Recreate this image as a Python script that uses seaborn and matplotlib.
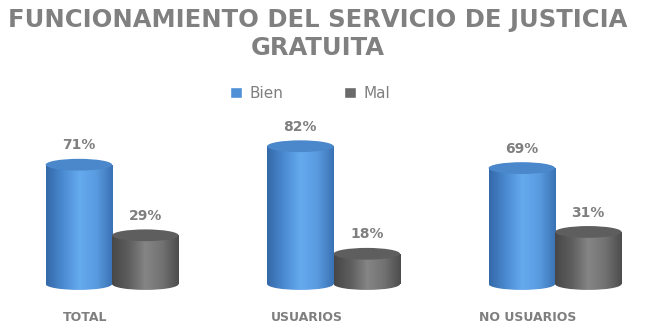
import numpy as np
import pandas as pd
import matplotlib
matplotlib.use("Agg")
import matplotlib.pyplot as plt
import matplotlib.transforms as mtransforms
from matplotlib.patches import Ellipse, Rectangle
from matplotlib.colors import LinearSegmentedColormap
import seaborn as sns

categories = ["TOTAL", "USUARIOS", "NO USUARIOS"]
series = ["Bien", "Mal"]
bien = [71, 82, 69]
mal = [29, 18, 31]
title = "FUNCIONAMIENTO DEL SERVICIO DE JUSTICIA\nGRATUITA"

df = pd.DataFrame({
    "cat": categories * 2,
    "serie": ["Bien"] * 3 + ["Mal"] * 3,
    "val": bien + mal,
})

sns.set_theme(style="white")
plt.rcParams["font.family"] = ["DejaVu Sans"]

colors = {"Bien": "#4f90d6", "Mal": "#6a6a6a"}
grad = {
    "Bien": ["#3469a8", "#4a8ad0", "#66aaee", "#5a9be0", "#3a72b4"],
    "Mal": ["#474747", "#5e5e5e", "#858585", "#727272", "#4c4c4c"],
}
capc = {"Bien": "#4a87cb", "Mal": "#5e5e5e"}

fig = plt.figure(figsize=(6.45, 3.35), dpi=100)
ax = fig.add_axes([0, 35 / 335, 1, 200 / 335])
sns.barplot(data=df, x="cat", y="val", hue="serie", order=categories,
            hue_order=series, palette=colors, width=0.6, gap=0,
            dodge=True, ax=ax, legend=False, errorbar=None)
ax.set_xlim(-0.506, 2.406)
ax.set_ylim(-9.5, 109.5)
for s in ax.spines.values():
    s.set_visible(False)
ax.set_yticks([])
ax.set_ylabel("")
ax.set_xlabel("")

cap_h = 7.0
bars = list(ax.patches)
n = len(categories)
for i, p in enumerate(bars):
    s = series[i // n]
    val = df["val"].iloc[i]
    x0, w, h = p.get_x(), p.get_width(), p.get_height()
    xc = x0 + w / 2
    p.set_visible(False)
    cmap = LinearSegmentedColormap.from_list("g" + s, grad[s])
    g = np.linspace(0, 1, 256).reshape(1, -1)
    z = 2 + i * 0.01 if s == "Bien" else 3 + i * 0.01
    rect = Rectangle((x0, 0), w, h, transform=ax.transData, visible=False)
    ax.add_patch(rect)
    im = ax.imshow(g, cmap=cmap, extent=(x0, x0 + w, -cap_h, h), aspect="auto",
                   zorder=z, interpolation="bilinear")
    im.set_clip_path(rect)
    eb = Ellipse((xc, 0), w, cap_h, transform=ax.transData, visible=False)
    ax.add_patch(eb)
    im2 = ax.imshow(g, cmap=cmap, extent=(x0, x0 + w, -cap_h, h), aspect="auto",
                    zorder=z, interpolation="bilinear")
    im2.set_clip_path(eb)
    ax.add_patch(Ellipse((xc, h), w, cap_h, facecolor=capc[s], edgecolor="none",
                         zorder=z + 0.005))
    ax.text(xc, h + 11.5, f"{val}%", ha="center", va="center", fontsize=10,
            fontweight="bold", color="#7f7f7f", zorder=10)

ax.set_xticks(range(n))
ax.set_xticklabels(categories, fontsize=9, fontweight="bold", color="#7f7f7f")
ax.tick_params(axis="x", length=0, pad=8)
off = mtransforms.ScaledTranslation(-27 / 100, 0, fig.dpi_scale_trans)
for lab in ax.get_xticklabels():
    lab.set_transform(lab.get_transform() + off)

fig.text(0.492, 1 - 34 / 335, title, ha="center", va="center", fontsize=17.5,
         fontweight="bold", color="#808080", linespacing=1.25)

handles = [Rectangle((0, 0), 1, 1, facecolor=colors[s]) for s in series]
fig.legend(handles, series, loc="center", bbox_to_anchor=(0.481, 1 - 93 / 335),
           ncol=2, frameon=False, fontsize=11, labelcolor="#7f7f7f",
           handlelength=0.75, handleheight=0.75, columnspacing=4.0,
           handletextpad=0.5)

fig.savefig("out.png", dpi=100)
